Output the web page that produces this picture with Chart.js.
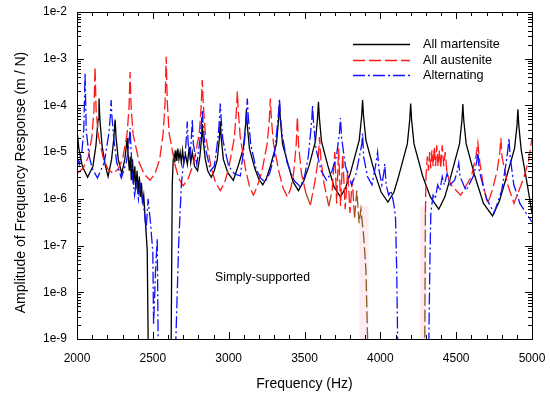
<!DOCTYPE html>
<html>
<head>
<meta charset="utf-8">
<script src="https://cdn.jsdelivr.net/npm/chart.js@4.4.0/dist/chart.umd.min.js"></script>
<style>
  html, body { margin: 0; padding: 0; background: #fff; }
</style>
</head>
<body>
<canvas id="myChart" width="550" height="399"></canvas>
<script>
'use strict';

// [frequency (Hz), amplitude (m/N)]
const allMartensite = [
  [2000, 3.0e-5], [2012, 1.2e-5], [2035, 5e-6], [2070, 2.9e-6], [2105, 5e-6], [2125, 1.4e-5],
  [2139, 5e-5], [2145, 1.4e-4], [2151, 5e-5], [2165, 1.4e-5], [2185, 5.5e-6], [2205, 3e-6],
  [2228, 7e-6], [2243, 2e-5], [2251, 5e-5], [2258, 2e-5], [2272, 7e-6], [2295, 3.5e-6],
  [2315, 7e-6], [2325, 1.3e-5], [2330, 2e-5], [2336, 1e-5], [2345, 4e-6], [2352, 8e-6],
  [2358, 2.5e-6], [2366, 7e-6], [2373, 2e-6], [2381, 5e-6], [2388, 1.6e-6], [2396, 4e-6],
  [2403, 1.3e-6], [2411, 3e-6], [2418, 1.1e-6], [2425, 2.2e-6], [2432, 8e-7], [2440, 1.2e-6],
  [2449, 4e-7], [2456, 1.8e-7], [2463, 8e-8], [2469, 1e-9], [2475, 1e-10], [2615, 1e-10],
  [2621, 1e-9], [2628, 2e-6], [2634, 6.7e-6], [2640, 9e-6], [2645, 6e-6], [2652, 1.1e-5],
  [2658, 6.5e-6], [2665, 1.2e-5], [2672, 7e-6], [2680, 1e-5], [2688, 6e-6], [2696, 1.1e-5],
  [2705, 6e-6], [2715, 9e-6], [2728, 5.5e-6], [2740, 1.3e-5], [2750, 6e-6], [2760, 1e-5],
  [2775, 5e-6], [2795, 4e-6], [2810, 8e-6], [2820, 1.8e-5], [2826, 4e-5], [2832, 1.8e-5],
  [2846, 7e-6], [2862, 4e-6], [2885, 2.9e-6], [2905, 4e-6], [2925, 7e-6], [2939, 2e-5],
  [2945, 4.5e-5], [2951, 2e-5], [2965, 7e-6], [2995, 3.6e-6], [3031, 2.5e-6], [3062, 5e-6],
  [3097, 1.2e-5], [3111, 3.7e-5], [3117, 8.3e-5], [3123, 3.7e-5], [3137, 1.2e-5], [3172, 4.5e-6],
  [3200, 2.6e-6], [3225, 2e-6], [3250, 2.8e-6], [3275, 5e-6], [3315, 1.5e-5], [3329, 5e-5],
  [3335, 1.1e-4], [3341, 5e-5], [3355, 1.5e-5], [3395, 5e-6], [3425, 2.3e-6], [3460, 1.5e-6],
  [3495, 2.4e-6], [3532, 5.4e-6], [3572, 1.7e-5], [3586, 5.4e-5], [3592, 1.2e-4], [3598, 5.4e-5],
  [3612, 1.7e-5], [3652, 5.4e-6], [3695, 1.8e-6], [3737, 1.1e-6], [3770, 1.7e-6], [3803, 3.6e-6],
  [3861, 1.8e-5], [3877, 6e-5], [3883, 1.3e-4], [3889, 6e-5], [3905, 1.8e-5], [3963, 3.6e-6],
  [4005, 1.4e-6], [4050, 8.5e-7], [4090, 1.4e-6], [4120, 3e-6], [4178, 1.5e-5], [4194, 5e-5],
  [4200, 1.1e-4], [4206, 5e-5], [4222, 1.5e-5], [4280, 3e-6], [4330, 1.1e-6], [4385, 6e-7],
  [4425, 1.1e-6], [4464, 3e-6], [4522, 1.5e-5], [4538, 4.8e-5], [4544, 1.07e-4], [4550, 4.8e-5],
  [4566, 1.5e-5], [4624, 3e-6], [4680, 8e-7], [4740, 4.3e-7], [4785, 9e-7], [4827, 2.6e-6],
  [4885, 1.2e-5], [4901, 3.7e-5], [4907, 8.3e-5], [4913, 3.7e-5], [4929, 1.1e-5], [4960, 3e-6],
  [5000, 5e-7]
];

const allAustenite = [
  [2000, 3.5e-6], [2040, 4.5e-6], [2075, 8e-6], [2097, 2e-5], [2112, 8e-5], [2119, 6.6e-4],
  [2126, 8e-5], [2141, 2.2e-5], [2175, 7e-6], [2205, 4.3e-6], [2238, 3.5e-6], [2270, 4.3e-6],
  [2300, 7e-6], [2330, 2.4e-5], [2343, 9e-5], [2350, 5.2e-4], [2357, 9e-5], [2370, 2.4e-5],
  [2410, 6e-6], [2445, 3.3e-6], [2482, 2.5e-6], [2515, 3.5e-6], [2545, 7e-6], [2568, 2.5e-5],
  [2581, 1.2e-4], [2588, 1.1e-3], [2595, 1.2e-4], [2608, 2.5e-5], [2645, 5.5e-6], [2672, 2.7e-6],
  [2700, 1.9e-6], [2735, 2.8e-6], [2770, 6e-6], [2806, 2.5e-5], [2819, 1e-4], [2826, 3.5e-4],
  [2833, 1e-4], [2846, 2.5e-5], [2885, 4.5e-6], [2915, 2.2e-6], [2945, 1.5e-6], [2975, 2.3e-6],
  [3003, 5e-6], [3037, 2e-5], [3050, 7e-5], [3057, 2e-4], [3064, 7e-5], [3077, 2e-5],
  [3113, 4e-6], [3138, 1.8e-6], [3163, 1.2e-6], [3190, 1.9e-6], [3220, 4e-6], [3255, 1.6e-5],
  [3268, 5e-5], [3275, 1.4e-4], [3282, 5e-5], [3295, 1.6e-5], [3330, 4e-6], [3358, 1.7e-6],
  [3388, 1.1e-6], [3410, 1.7e-6], [3428, 3.5e-6], [3445, 1.4e-5], [3453, 5.6e-5], [3461, 1.4e-5],
  [3480, 3.5e-6], [3510, 1.3e-6], [3539, 7.4e-7], [3570, 2.5e-6], [3590, 7e-6], [3599, 2.1e-5],
  [3608, 7e-6], [3628, 2.2e-6], [3660, 7e-7], [3682, 1.5e-6], [3700, 1e-5], [3712, 8e-7],
  [3725, 1.2e-5], [3738, 7e-7], [3752, 9e-6], [3768, 6e-7], [3785, 4e-6], [3800, 5e-7],
  [3815, 2.5e-6], [3830, 4e-7], [3845, 1.5e-6], [3860, 3e-7], [3872, 6e-7], [3890, 1.6e-7],
  [3905, 3e-8], [3916, 1e-9], [3925, 1e-10], [4285, 1e-10], [4293, 1e-9], [4297, 5e-7],
  [4302, 3.5e-6], [4310, 8e-6], [4318, 4e-6], [4325, 1e-5], [4333, 4.5e-6], [4340, 1.1e-5],
  [4348, 5e-6], [4356, 1.3e-5], [4364, 5e-6], [4372, 1.4e-5], [4380, 5e-6], [4390, 1.1e-5],
  [4398, 4.5e-6], [4408, 1.4e-5], [4418, 5e-6], [4428, 1e-5], [4440, 3.5e-6], [4465, 2e-6],
  [4530, 1.2e-6], [4600, 3e-6], [4630, 8e-6], [4643, 1.6e-5], [4656, 6e-6], [4680, 1.8e-6],
  [4709, 8e-7], [4740, 1.6e-6], [4770, 4e-6], [4788, 1e-5], [4795, 2e-5], [4802, 8e-6],
  [4840, 2e-6], [4881, 8e-7], [4940, 2.5e-6], [4975, 6e-6], [5000, 2e-5]
];

const alternating = [
  [2000, 8e-6], [2015, 5.5e-6], [2032, 1e-5], [2045, 3e-5], [2053, 4.9e-4], [2061, 3e-5],
  [2078, 9e-6], [2100, 4.5e-6], [2135, 2.8e-6], [2180, 6e-6], [2210, 2.5e-5], [2220, 6e-5],
  [2225, 1.3e-4], [2230, 6e-5], [2242, 2e-5], [2262, 6e-6], [2292, 2.8e-6], [2325, 6e-6],
  [2342, 1.4e-5], [2350, 3.3e-5], [2356, 1.2e-5], [2366, 3e-6], [2380, 1.2e-6], [2393, 2.5e-6],
  [2405, 1e-6], [2416, 2e-6], [2431, 1e-6], [2445, 5e-7], [2456, 2.2e-7], [2469, 1e-6],
  [2485, 3e-7], [2500, 7e-8], [2505, 2e-9], [2518, 3e-8], [2529, 1.4e-7], [2535, 1e-9],
  [2540, 1e-10], [2645, 1e-10], [2652, 1e-9], [2670, 1e-7], [2688, 2e-6], [2700, 5e-6],
  [2715, 1.1e-5], [2723, 2.5e-5], [2727, 4.5e-5], [2733, 1.5e-5], [2745, 8e-6], [2754, 2e-5],
  [2760, 5e-5], [2767, 1.5e-5], [2790, 5.5e-6], [2812, 2e-5], [2820, 4e-5], [2826, 8e-5],
  [2832, 3.5e-5], [2845, 1.3e-5], [2880, 4e-6], [2905, 5e-6], [2930, 2e-5], [2939, 5e-5],
  [2945, 1.1e-4], [2951, 5e-5], [2962, 1.8e-5], [3000, 5e-6], [3040, 3.4e-6], [3077, 3.1e-6],
  [3103, 1.5e-5], [3117, 6e-5], [3123, 1.4e-4], [3129, 6e-5], [3145, 1.5e-5], [3180, 4.5e-6],
  [3210, 2.8e-6], [3240, 2.3e-6], [3270, 3.5e-6], [3300, 8e-6], [3320, 3.5e-5], [3329, 7e-5],
  [3335, 1.4e-4], [3341, 6e-5], [3352, 2.5e-5], [3385, 6e-6], [3430, 2.5e-6], [3473, 1.8e-6],
  [3500, 3e-6], [3525, 8e-6], [3542, 3e-5], [3548, 5e-5], [3553, 1e-4], [3559, 4.5e-5],
  [3575, 1.2e-5], [3610, 4e-6], [3645, 2.5e-6], [3680, 3.8e-6], [3710, 8e-6], [3730, 2.5e-5],
  [3737, 5.4e-5], [3745, 2e-5], [3770, 5e-6], [3810, 2e-6], [3840, 3.5e-6], [3862, 8e-6],
  [3878, 1.5e-5], [3883, 2.5e-5], [3890, 8e-6], [3915, 3e-6], [3945, 2e-6], [3968, 5e-6],
  [3982, 1e-5], [3992, 4e-6], [4010, 2e-6], [4025, 4e-6], [4029, 5.6e-6], [4038, 2e-6],
  [4055, 1.2e-6], [4070, 1.5e-6], [4088, 8e-7], [4100, 4e-7], [4108, 3e-8], [4114, 1e-9],
  [4120, 1e-10], [4315, 1e-10], [4320, 1e-9], [4327, 5e-8], [4333, 5e-7], [4348, 1.2e-6],
  [4362, 1e-6], [4378, 2e-6], [4393, 1.5e-6], [4408, 3e-6], [4422, 2e-6], [4440, 3.5e-6],
  [4460, 2e-6], [4490, 2.5e-6], [4508, 4e-6], [4517, 5.8e-6], [4526, 3e-6], [4565, 1.5e-6],
  [4612, 3e-6], [4635, 6e-6], [4643, 1.1e-5], [4652, 4e-6], [4700, 1e-6], [4750, 5e-7],
  [4800, 1.5e-6], [4830, 6e-6], [4842, 1.2e-5], [4848, 2e-5], [4856, 8e-6], [4880, 2e-6],
  [4920, 8e-7], [4960, 5e-7], [5000, 3.2e-7]
];

const seriesNames = ['All martensite', 'All austenite', 'Alternating'];
const xTickValues = [2000, 2500, 3000, 3500, 4000, 4500, 5000];
const yTickValues = [1e-9, 1e-8, 1e-7, 1e-6, 1e-5, 1e-4, 1e-3, 1e-2];
const yTickLabels = ['1e-9', '1e-8', '1e-7', '1e-6', '1e-5', '1e-4', '1e-3', '1e-2'];
const yTitle = 'Amplitude of Frequency Response (m / N)';
const noteText = 'Simply-supported';
const notePos = [3223, 2.1e-8];

const RED = '#ff1a1a';
const BROWN = '#8a5a22';
const BLUE = '#1010ff';

Chart.defaults.font.family = '"Liberation Sans", Arial, sans-serif';
Chart.defaults.color = '#000';

const toPoints = (pairs) => pairs.map(([x, y]) => ({x, y}));

// parts of the austenite curve that show up brownish in the figure
const isBrown = (ctx) => {
  const x0 = ctx.p0.parsed.x, x1 = ctx.p1.parsed.x;
  const yMax = Math.max(ctx.p0.parsed.y, ctx.p1.parsed.y);
  if (x0 >= 3480 && x1 <= 3930 && yMax < 1.6e-6) return true;
  return x0 >= 4280 && x1 <= 4298;
};

const lineStyles = [
  {color: '#000', dash: []},
  {color: RED, dash: [12, 4]},
  {color: BLUE, dash: [12, 3, 2, 3]}
];

const data = {
  datasets: [
    {
      label: seriesNames[0],
      data: toPoints(allMartensite),
      borderColor: '#000',
      borderWidth: 1.3,
      pointRadius: 0,
      order: 2
    },
    {
      label: seriesNames[1],
      data: toPoints(allAustenite),
      borderColor: RED,
      borderWidth: 1.3,
      borderDash: [12, 4],
      pointRadius: 0,
      segment: {
        borderColor: (ctx) => isBrown(ctx) ? BROWN : RED
      },
      order: 1
    },
    {
      label: seriesNames[2],
      data: toPoints(alternating),
      borderColor: BLUE,
      borderWidth: 1.3,
      borderDash: [12, 3, 2, 3],
      pointRadius: 0,
      order: 0
    }
  ]
};

// faint pink bands behind the curves
const bands = {
  id: 'bands',
  beforeDatasetsDraw(chart) {
    const {ctx, scales: {x, y}} = chart;
    ctx.save();
    ctx.fillStyle = 'rgba(250, 215, 230, 0.5)';
    [[3862, 3922], [4262, 4304]].forEach(([f0, f1]) => {
      const x0 = x.getPixelForValue(f0), x1 = x.getPixelForValue(f1);
      const yt = y.getPixelForValue(7e-7), yb = y.getPixelForValue(1e-9);
      ctx.fillRect(x0, yt, x1 - x0, yb - yt);
    });
    ctx.restore();
  }
};

// frame, inward ticks, legend, y title and the note
const decorations = {
  id: 'decorations',
  afterDatasetsDraw(chart) {
    const {ctx, chartArea: a, scales: {x, y}} = chart;
    ctx.save();
    ctx.strokeStyle = '#000';
    ctx.lineWidth = 1;
    ctx.setLineDash([]);
    ctx.strokeRect(Math.round(a.left) + 0.5, Math.round(a.top) + 0.5,
      Math.round(a.right - a.left), Math.round(a.bottom - a.top));

    ctx.beginPath();
    for (let f = 2000; f <= 5000; f += 100) {
      const px = Math.round(x.getPixelForValue(f)) + 0.5;
      const len = f % 500 === 0 ? 7 : 4;
      ctx.moveTo(px, a.bottom); ctx.lineTo(px, a.bottom - len);
      ctx.moveTo(px, a.top); ctx.lineTo(px, a.top + len);
    }
    for (let e = -9; e <= -2; e++) {
      for (let m = 1; m <= 9; m++) {
        if (e === -2 && m > 1) break;
        const py = Math.round(y.getPixelForValue(m * Math.pow(10, e))) + 0.5;
        const len = m === 1 ? 7 : 4;
        ctx.moveTo(a.left, py); ctx.lineTo(a.left + len, py);
        ctx.moveTo(a.right, py); ctx.lineTo(a.right - len, py);
      }
    }
    ctx.stroke();

    // legend
    const rows = [a.top + 32.5, a.top + 48.5, a.top + 63.5];
    const lx0 = a.right - 179, lx1 = a.right - 122;
    ctx.font = '12.7px "Liberation Sans", Arial, sans-serif';
    ctx.textBaseline = 'middle';
    ctx.fillStyle = '#000';
    seriesNames.forEach((name, i) => {
      ctx.strokeStyle = lineStyles[i].color;
      ctx.lineWidth = 1.3;
      ctx.setLineDash(lineStyles[i].dash);
      ctx.beginPath();
      ctx.moveTo(lx0, rows[i]);
      ctx.lineTo(lx1, rows[i]);
      ctx.stroke();
      ctx.fillText(name, a.right - 109, rows[i]);
    });

    // note
    ctx.font = '12.2px "Liberation Sans", Arial, sans-serif';
    ctx.textAlign = 'center';
    ctx.fillText(noteText, x.getPixelForValue(notePos[0]), y.getPixelForValue(notePos[1]));

    // y axis title, a little below the middle as in the figure
    ctx.font = '14px "Liberation Sans", Arial, sans-serif';
    ctx.translate(21.5, (a.top + a.bottom) / 2 + 7);
    ctx.rotate(-Math.PI / 2);
    ctx.fillText(yTitle, 0, 0);
    ctx.restore();
  }
};

const options = {
  responsive: false,
  animation: false,
  layout: {padding: {left: 0, top: 12, right: 18, bottom: 0}},
  plugins: {
    legend: {display: false},
    tooltip: {enabled: false}
  },
  scales: {
    x: {
      type: 'linear',
      min: 2000,
      max: 5000,
      afterBuildTicks: (scale) => {
        scale.ticks = xTickValues.map((v) => ({value: v}));
      },
      ticks: {
        padding: 12,
        maxRotation: 0,
        font: {size: 12},
        callback: (val) => String(val)
      },
      grid: {display: false, drawTicks: false},
      border: {display: false},
      title: {
        display: true,
        text: 'Frequency (Hz)',
        font: {size: 14},
        padding: {top: 0, bottom: 6}
      },
      afterFit: (scale) => {
        scale.height = 60;
        scale.paddingLeft = 0;
        scale.paddingRight = 0;
      }
    },
    y: {
      type: 'logarithmic',
      min: 1e-9,
      max: 1e-2,
      afterBuildTicks: (scale) => {
        scale.ticks = yTickValues.map((v) => ({value: v}));
      },
      ticks: {
        padding: 10,
        autoSkip: false,
        font: {size: 12},
        callback: (val, idx) => yTickLabels[idx]
      },
      grid: {display: false, drawTicks: false},
      border: {display: false},
      afterFit: (scale) => {
        scale.width = 77;
        scale.paddingTop = 0;
        scale.paddingBottom = 0;
      }
    }
  }
};

const chart = new Chart(document.getElementById('myChart'), {
  type: 'line',
  data: data,
  options: options,
  plugins: [bands, decorations]
});
</script>
</body>
</html>
